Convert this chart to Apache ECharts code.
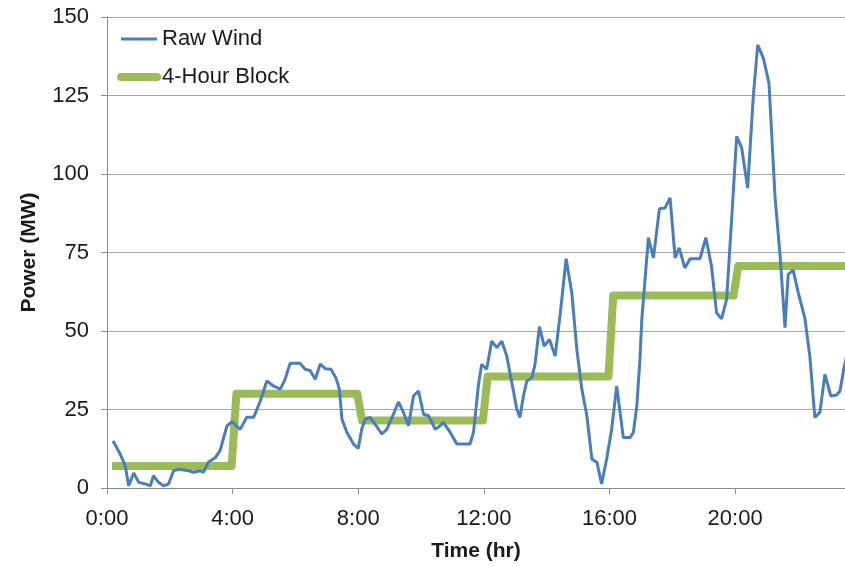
<!DOCTYPE html>
<html>
<head>
<meta charset="utf-8">
<script src="https://cdn.jsdelivr.net/npm/echarts@6/dist/echarts.min.js"></script>
<style>
  html, body { margin: 0; padding: 0; background: #fff; }
  #chart { width: 845px; height: 567px; }
</style>
</head>
<body>
<div id="chart"></div>
<script>
// raw wind (hours, MW)
var windTime = [0.19, 0.42, 0.58, 0.69, 0.85, 1.01, 1.22, 1.38, 1.48, 1.64, 1.80, 1.96, 2.12, 2.30, 2.60, 2.76, 2.97, 3.07, 3.23, 3.45, 3.60, 3.82, 3.98,
  4.24, 4.45, 4.67, 4.88, 5.09, 5.30, 5.52, 5.67, 5.83, 6.15, 6.31, 6.47, 6.63, 6.79, 6.95, 7.13, 7.29, 7.40, 7.48, 7.64, 7.85, 8.00,
  8.11, 8.22, 8.38, 8.54, 8.75, 8.91, 9.12, 9.28, 9.44, 9.60, 9.76, 9.92, 10.08, 10.24, 10.45, 10.61, 10.71, 10.93, 11.14, 11.56, 11.67, 11.83, 11.93,
  12.09, 12.25, 12.41, 12.57, 12.73, 12.89, 13.05, 13.15, 13.26, 13.37, 13.53, 13.63, 13.77, 13.92, 14.09, 14.27, 14.43, 14.62, 14.80, 14.96,
  15.12, 15.28, 15.44, 15.60, 15.75, 15.91, 16.07, 16.23, 16.44, 16.66, 16.76, 16.87, 16.97, 17.03, 17.24, 17.40, 17.59, 17.77, 17.93,
  18.09, 18.22, 18.40, 18.57, 18.88, 19.07, 19.25, 19.41, 19.57, 19.73, 19.89, 20.05, 20.21, 20.40, 20.58, 20.72, 20.90, 21.08, 21.27,
  21.43, 21.59, 21.69, 21.85, 22.01, 22.22, 22.38, 22.54, 22.70, 22.86, 23.05, 23.23, 23.34, 23.48, 23.60];
var windPower = [15.0, 10.8, 7.1, 0.7, 4.8, 1.8, 1.3, 0.7, 3.9, 1.8, 0.7, 1.3, 5.5, 6.0, 5.5, 5.0, 5.5, 5.0, 8.2, 9.7, 11.9, 19.8, 21.1,
  18.7, 22.5, 22.5, 27.7, 34.1, 32.5, 31.5, 34.6, 39.7, 39.7, 37.8, 37.4, 34.6, 39.5, 38.0, 37.8, 35.0, 31.5, 22.0, 17.7, 14.0, 12.6,
  18.7, 21.9, 22.5, 20.3, 17.2, 18.7, 23.5, 27.4, 24.1, 19.8, 29.3, 30.9, 23.5, 23.0, 18.7, 19.8, 20.9, 17.7, 14.0, 14.0, 17.7, 33.0, 39.4,
  37.8, 46.8, 44.7, 46.8, 42.0, 33.6, 25.1, 22.5, 29.3, 34.1, 35.2, 39.4, 51.4, 45.2, 47.3, 42.0, 55.3, 73.0, 62.2, 44.2,
  31.5, 23.0, 9.2, 8.2, 1.3, 9.2, 18.7, 32.5, 16.1, 16.1, 17.7, 26.0, 41.0, 53.7, 79.7, 73.3, 88.9, 89.2, 92.4,
  73.3, 76.5, 70.1, 73.0, 73.0, 79.7, 70.6, 55.8, 53.9, 60.1, 85.5, 112.0, 108.3, 95.5, 124.7, 141.1, 136.9, 128.9, 92.9,
  74.4, 51.1, 68.0, 69.4, 62.2, 54.2, 42.0, 22.5, 24.1, 36.2, 29.3, 29.6, 30.9, 38.9, 44.0];

// 4-hour block averages
var blockTime = [0.16, 3.97, 4.12, 7.97, 8.12, 11.97, 12.12, 15.97, 16.12, 19.95, 20.10, 23.6];
var blockPower = [7.0, 7.0, 30.0, 30.0, 21.5, 21.5, 35.5, 35.5, 61.3, 61.3, 70.7, 70.7];

var xTicks = [0, 4, 8, 12, 16, 20];

function pairs(xs, ys) {
  var out = [];
  for (var i = 0; i < xs.length; i++) out.push([xs[i], ys[i]]);
  return out;
}

var chart = echarts.init(document.getElementById('chart'), null, { renderer: 'canvas' });
var font = 'Liberation Sans, Arial, sans-serif';
var blue = '#4a7ebb';
var green = '#9bbb59';

var option = {
  animation: false,
  backgroundColor: '#fff',
  textStyle: { fontFamily: font },
  grid: { left: 107, right: 0, top: 17, bottom: 78, containLabel: false },
  legend: {
    orient: 'vertical',
    left: 117,
    top: 28,
    padding: 0,
    itemWidth: 36,
    itemHeight: 8,
    itemGap: 16,
    textStyle: { fontSize: 22, color: '#1a1a1a', fontFamily: font },
    data: [
      { name: 'Raw Wind', itemStyle: { opacity: 0 }, lineStyle: { width: 3, color: blue } },
      { name: '4-Hour Block', itemStyle: { opacity: 0 }, lineStyle: { width: 8, color: green, cap: 'round' } }
    ]
  },
  xAxis: {
    type: 'value',
    min: 0,
    max: 23.5,
    interval: 4,
    name: 'Time (hr)',
    nameLocation: 'middle',
    nameGap: 53,
    nameTextStyle: { fontSize: 21, fontWeight: 'bold', color: '#1a1a1a', fontFamily: font },
    axisLine: { lineStyle: { color: '#8c8c8c', width: 1 } },
    axisTick: { show: true, length: 6, lineStyle: { color: '#8c8c8c' } },
    axisLabel: {
      fontSize: 22, color: '#1a1a1a', margin: 20, showMaxLabel: false,
      formatter: function (v) { return xTicks.indexOf(v) >= 0 ? v + ':00' : ''; }
    },
    splitLine: { show: false }
  },
  yAxis: {
    type: 'value',
    min: 0,
    max: 150,
    interval: 25,
    name: 'Power (MW)',
    nameLocation: 'middle',
    nameGap: 67,
    nameTextStyle: { fontSize: 21, fontWeight: 'bold', color: '#1a1a1a', fontFamily: font },
    axisLine: { show: true, lineStyle: { color: '#8c8c8c', width: 1 } },
    axisTick: { show: true, length: 6, lineStyle: { color: '#8c8c8c' } },
    axisLabel: { fontSize: 22, color: '#1a1a1a', margin: 18 },
    splitLine: { show: true, lineStyle: { color: '#a6a6a6', width: 1 } }
  },
  series: [
    {
      name: 'Raw Wind',
      type: 'line',
      data: pairs(windTime, windPower),
      symbol: 'none',
      itemStyle: { color: blue },
      lineStyle: { color: blue, width: 3 },
      z: 3
    },
    {
      name: '4-Hour Block',
      type: 'line',
      data: pairs(blockTime, blockPower),
      symbol: 'none',
      itemStyle: { color: green },
      lineStyle: { color: green, width: 8, join: 'round' },
      z: 2
    }
  ]
};

chart.setOption(option);
</script>
</body>
</html>
